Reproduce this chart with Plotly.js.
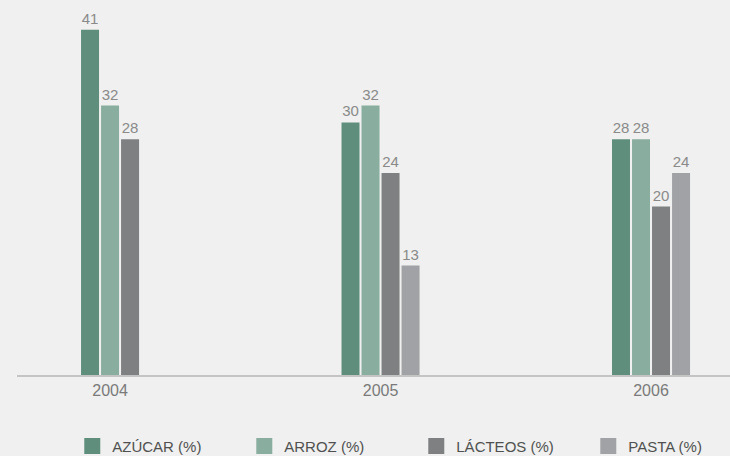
<!DOCTYPE html>
<html>
<head>
<meta charset="utf-8">
<script src="https://cdn.plot.ly/plotly-3.0.1.min.js"></script>
<style>
  html, body { margin: 0; padding: 0; background: #eff0ef; }
  #chart { width: 730px; height: 456px; }
</style>
</head>
<body>
<div id="chart"></div>
<script>
// ---- data ----
const years = [2004, 2005, 2006];
const yearLabels = ['2004', '2005', '2006'];
const seriesNames = ['AZÚCAR', 'ARROZ', 'LÁCTEOS', 'PASTA'];
const azucar  = [41, 30, 28];
const arroz   = [32, 32, 28];
const lacteos = [28, 24, 20];
const pasta   = [null, 13, 24];

// ---- styles ----
const seriesValues = [azucar, arroz, lacteos, pasta];
const colors = ['#5f8f7c', '#89ae9f', '#7f8082', '#a0a2a5'];
const slot = 0.074;   // slot per bar in axis units
const barW = 0.0665;  // bar width in axis units

// centre the bars that exist in each year
const offsets = seriesValues.map(() => []);
years.forEach((y, i) => {
  const present = seriesValues.map((v, s) => v[i] != null ? s : -1).filter(s => s >= 0);
  const n = present.length;
  seriesValues.forEach((v, s) => {
    const k = present.indexOf(s);
    offsets[s][i] = k >= 0 ? (k - n / 2) * slot + (slot - barW) / 2 : 0;
  });
});

const traces = seriesValues.map((vals, s) => ({
  type: 'bar',
  name: seriesNames[s] + ' (%)',
  x: years,
  y: vals,
  offset: offsets[s],
  width: years.map(() => barW),
  marker: { color: colors[s], line: { width: 0 } },
  text: vals.map(v => v == null ? '' : String(v)),
  textposition: 'outside',
  textangle: 0,
  constraintext: 'none',
  cliponaxis: false,
  textfont: { family: 'Liberation Sans, Arial, sans-serif', size: 15, color: '#8a8a8a' },
  hoverinfo: 'skip'
}));

const layout = {
  width: 730,
  height: 456,
  margin: { l: 17, r: 0, t: 10, b: 81, autoexpand: false },
  paper_bgcolor: '#eff0ef',
  plot_bgcolor: '#eff0ef',
  barmode: 'overlay',
  showlegend: true,
  xaxis: {
    type: 'linear',
    range: [2003.656, 2006.292],
    tickvals: years,
    ticktext: yearLabels,
    ticks: '',
    showgrid: false,
    zeroline: false,
    showline: true,
    linecolor: '#c4c4c4',
    linewidth: 2,
    tickfont: { family: 'Liberation Sans, Arial, sans-serif', size: 16, color: '#7a7a7a' },
    fixedrange: true
  },
  yaxis: {
    range: [0, 43.35],
    visible: false,
    showgrid: false,
    zeroline: false,
    fixedrange: true
  },
  legend: {
    orientation: 'h',
    x: 0.56,
    xanchor: 'center',
    y: -0.195,
    yanchor: 'middle',
    entrywidth: 127,
    entrywidthmode: 'pixels',
    bgcolor: 'rgba(0,0,0,0)',
    font: { family: 'Liberation Sans, Arial, sans-serif', size: 15, color: '#505050' },
    traceorder: 'normal'
  }
};

Plotly.newPlot('chart', traces, layout, { displayModeBar: false, staticPlot: true }).then(() => {
  document.querySelectorAll('#chart .legendpoints path').forEach(p => {
    p.setAttribute('d', 'M8,8H-8V-8H8Z');
  });
});
</script>
</body>
</html>
